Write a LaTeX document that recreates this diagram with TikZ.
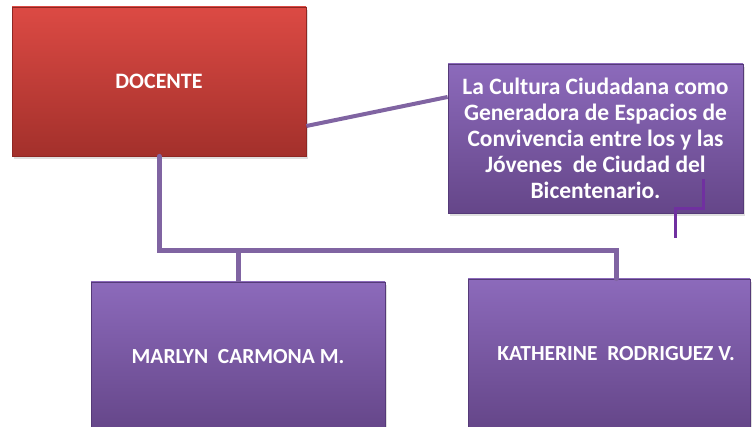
\documentclass[tikz,border=0pt]{standalone}
\usepackage{fontspec}
\setmainfont{Carlito}
\usetikzlibrary{shadows}
\definecolor{redtop}{HTML}{DC4A44}
\definecolor{redbot}{HTML}{A3302B}
\definecolor{redrim}{HTML}{8E2723}
\definecolor{violtop}{HTML}{8C6ABB}
\definecolor{violbot}{HTML}{654689}
\definecolor{violrim}{HTML}{553A78}
\definecolor{linkcol}{HTML}{8064A2}
\definecolor{tickcol}{HTML}{7030A0}
\begin{document}
\begin{tikzpicture}[x=1pt,y=-1pt,
  every node/.style={font=\bfseries, text=white, align=center},
  box/.style={rectangle, draw, line width=0.8pt, shading=axis, shading angle=0,
    drop shadow={shadow xshift=2pt, shadow yshift=-3pt, opacity=0.25}},
  redbox/.style={box, draw=redrim, top color=redtop, bottom color=redbot},
  violbox/.style={box, draw=violrim, top color=violtop, bottom color=violbot},
  link/.style={draw=linkcol, line width=5pt},
  tick/.style={draw=tickcol, line width=3pt}]
 \useasboundingbox (0,0) rectangle (752,427);
 \node [redbox, minimum width=294pt, minimum height=149pt,
  font=\bfseries\fontsize{22}{26}\selectfont] (docente) at (159,81.5) {DOCENTE};
 \node [violbox, minimum width=295pt, minimum height=149pt,
  font=\bfseries\fontsize{23.5}{26}\selectfont] (tema) at (595.5,138.5)
  {La Cultura Ciudadana como\\Generadora de Espacios de\\Convivencia entre los y las\\
   Jóvenes\ \ de Ciudad del\\Bicentenario.};
 \node [violbox, minimum width=294pt, minimum height=149pt,
  font=\bfseries\fontsize{21.5}{24}\selectfont] (marlyn) at (238,356.5)
  {MARLYN\ \ CARMONA M.};
 \node [violbox, minimum width=282pt, minimum height=149pt,
  font=\bfseries\fontsize{21.5}{24}\selectfont] (katherine) at (609,353.5)
  {\hspace*{14pt}KATHERINE\ \ RODRIGUEZ V.};
 \draw [link, line width=4pt] ([yshift=-44.5pt]docente.east) -- ([yshift=41.5pt]tema.west);
 \coordinate (bus) at ([yshift=-94pt]docente.south);
 \draw [link, line cap=round] (docente.south) -- (bus) -| ([xshift=7pt]katherine.north);
 \draw [link] (marlyn.north) -- (marlyn.north |- bus);
 \coordinate (tickend) at (675,238);
 \draw [tick] ([xshift=-40pt,yshift=34pt]tema.south east) |- (tickend |- 0,209) -- (tickend);
\end{tikzpicture}
\end{document}
